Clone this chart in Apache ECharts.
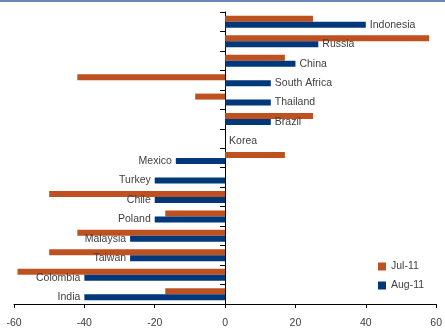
<!DOCTYPE html>
<html>
<head>
<meta charset="utf-8">
<script src="https://cdn.jsdelivr.net/npm/echarts@6/dist/echarts.min.js"></script>
<style>
  html, body { margin: 0; padding: 0; background: #fff; }
  #chart { width: 445px; height: 330px; }
</style>
</head>
<body>
<div id="chart"></div>
<script>
// Country categories, top to bottom
const countries = ['Indonesia', 'Russia', 'China', 'South Africa', 'Thailand', 'Brazil', 'Korea',
  'Mexico', 'Turkey', 'Chile', 'Poland', 'Malaysia', 'Taiwan', 'Colombia', 'India'];
// Net balance readings per month
const jul11 = [25, 58, 17, -42, -8.5, 25, null, 17, null, -50, -17, -42, -50, -59, -17];
const aug11 = [40, 26.5, 20, 13, 13, 13, 0, -14, -20, -20, -20, -27, -27, -40, -40];
// Value axis ticks
const xTicks = [-60, -40, -20, 0, 20, 40, 60];

const labelFont = "'Liberation Sans Narrow', 'Arial Narrow', 'Liberation Sans', Arial, sans-serif";
const fontSize = 10.5;

const chart = echarts.init(document.getElementById('chart'), null, { renderer: 'canvas' });

chart.setOption({
  animation: false,
  backgroundColor: '#ffffff',
  grid: { left: 14, right: 7, top: 12, bottom: 26, containLabel: false },
  legend: {
    orient: 'vertical',
    left: 378, top: 261, padding: 0,
    icon: 'rect',
    itemWidth: 8, itemHeight: 8, itemGap: 8,
    textStyle: { fontFamily: labelFont, fontSize: fontSize, color: '#404040' },
    data: ['Jul-11', 'Aug-11']
  },
  graphic: [{
    type: 'rect', left: 0, top: 0,
    shape: { width: 445, height: 2 },
    style: { fill: '#6a88b4' }
  }],
  xAxis: {
    type: 'value',
    min: xTicks[0], max: xTicks[xTicks.length - 1], interval: 20,
    splitLine: { show: false },
    axisLine: { show: true, onZero: false, lineStyle: { color: '#000', width: 1 } },
    axisTick: { show: true, length: 4, lineStyle: { color: '#000' } },
    axisLabel: { fontFamily: labelFont, fontSize: fontSize, color: '#404040', margin: 14 }
  },
  yAxis: {
    type: 'category',
    data: countries,
    inverse: true,
    axisLine: { show: true, onZero: true, lineStyle: { color: '#000', width: 1 } },
    axisTick: { show: true, length: 5, lineStyle: { color: '#000' } },
    axisLabel: { show: false },
    splitLine: { show: false }
  },
  series: [
    {
      name: 'Jul-11', type: 'bar',
      data: jul11,
      barWidth: 6, barGap: '0%',
      itemStyle: { color: '#bf5020' }
    },
    {
      name: 'Aug-11', type: 'bar',
      data: aug11.map(v => ({
        value: v,
        label: { position: v < 0 ? 'left' : 'right' }
      })),
      barWidth: 6,
      itemStyle: { color: '#00387a' },
      label: {
        show: true,
        distance: 4,
        formatter: p => p.name,
        fontFamily: labelFont, fontSize: fontSize, color: '#404040'
      },
      z: 3
    }
  ]
});
</script>
</body>
</html>
